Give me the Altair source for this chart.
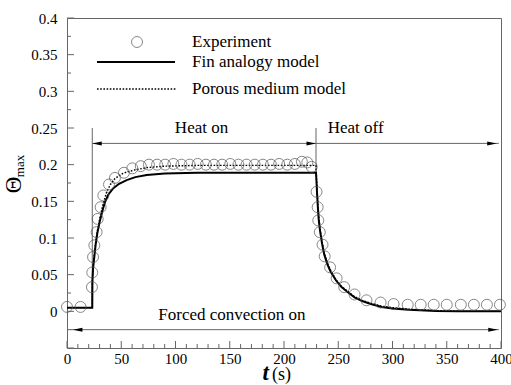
import altair as alt
import pandas as pd

# ---------------- data ----------------
exp_t = [0, 12.5, 23, 23.3, 24, 25.2, 27.3, 28.3, 31, 33.5, 38.7, 44.2, 52.5, 60.2, 68,
         75.5, 83, 90.5, 98, 105.5, 113, 120.5, 128, 135.5, 143, 150.5, 158, 165.5, 173,
         180.5, 188, 195.5, 203, 210, 216.5, 221.5, 225.5,
         230, 231, 231.6, 233, 235.5, 237.5, 242.5, 248.5, 255.5, 265, 276, 289, 301,
         314, 326, 338, 350, 363, 375, 387, 399]
exp_theta = [0.006, 0.006, 0.033, 0.053, 0.074, 0.090, 0.108, 0.126, 0.142, 0.158, 0.173, 0.182,
             0.189, 0.195, 0.198, 0.200, 0.200, 0.200, 0.201, 0.200, 0.200, 0.201, 0.200,
             0.200, 0.200, 0.201, 0.200, 0.200, 0.200, 0.200, 0.200, 0.201, 0.200, 0.201,
             0.204, 0.203, 0.197,
             0.163, 0.142, 0.124, 0.108, 0.091, 0.075, 0.060, 0.045, 0.033, 0.023, 0.015,
             0.012, 0.010, 0.009, 0.009, 0.009, 0.009, 0.009, 0.009, 0.009, 0.009]

fin_t = [0, 23.3, 23.4, 24, 25, 26.4, 28, 30.4, 33, 35, 38, 42.7, 48, 55, 63, 73.5, 90, 120,
         229.5, 230, 230.5, 231.2, 232, 233.2, 235, 237, 240, 243, 248, 253, 258, 265, 272,
         280, 290, 300, 315, 340, 360, 400]
fin_theta = [0.005, 0.005, 0.040, 0.058, 0.072, 0.091, 0.107, 0.124, 0.139, 0.149, 0.159,
             0.168, 0.174, 0.179, 0.183, 0.186, 0.188, 0.189,
             0.189, 0.175, 0.160, 0.142, 0.125, 0.110, 0.093, 0.078, 0.064, 0.054, 0.042,
             0.033, 0.027, 0.019, 0.014, 0.010, 0.006, 0.004, 0.002, 0.0005, 0.0, 0.0]

por_t = [0, 23.3, 23.4, 24, 25, 26.4, 28, 30.4, 33, 36.6, 40, 44.2, 50, 55, 63, 73.5, 90, 120,
         229.5, 230, 230.5, 231.2, 232, 233.2, 235, 237, 240, 243, 248, 253, 258, 265, 272,
         280, 290, 300, 315, 340, 360, 400]
por_theta = [0.005, 0.005, 0.040, 0.060, 0.075, 0.094, 0.110, 0.128, 0.145, 0.163, 0.173,
             0.181, 0.187, 0.190, 0.193, 0.196, 0.198, 0.199,
             0.199, 0.180, 0.165, 0.147, 0.130, 0.113, 0.096, 0.080, 0.066, 0.056, 0.043,
             0.034, 0.028, 0.020, 0.015, 0.011, 0.007, 0.005, 0.003, 0.001, 0.0, 0.0]

x_major = [0, 50, 100, 150, 200, 250, 300, 350, 400]
x_minor = [v for v in range(0, 401, 10) if v % 50 != 0]
y_major = [-0.05, 0, 0.05, 0.1, 0.15, 0.2, 0.25, 0.3, 0.35, 0.4]
y_labels = [0, 0.05, 0.1, 0.15, 0.2, 0.25, 0.3, 0.35, 0.4]
y_minor = [-0.025, 0.025, 0.075, 0.125, 0.175, 0.225, 0.275, 0.325, 0.375]

legend_labels = ["Experiment", "Fin analogy model", "Porous medium model"]
heat_on_label = "Heat on"
heat_off_label = "Heat off"
forced_label = "Forced convection on"

# ---------------- chart ----------------
W, H = 434, 330
FONT = "'Liberation Serif', 'Times New Roman', Tinos, 'DejaVu Serif', serif"
FRAME = "#666666"

xs = alt.Scale(domain=[0, 400], nice=False, zero=False)
ys = alt.Scale(domain=[-0.05, 0.4], nice=False, zero=False)

exp_df = pd.DataFrame({"t": exp_t, "v": exp_theta})
fin_df = pd.DataFrame({"t": fin_t, "v": fin_theta, "i": range(len(fin_t))})
por_df = pd.DataFrame({"t": por_t, "v": por_theta, "i": range(len(por_t))})

X = lambda f="t": alt.X(f"{f}:Q", scale=xs, axis=None)
Y = lambda f="v": alt.Y(f"{f}:Q", scale=ys, axis=None)

# axes (labels only; ticks drawn inward separately)
axes = alt.Chart(pd.DataFrame({"t": [0], "v": [0]})).mark_point(opacity=0).encode(
    x=alt.X("t:Q", scale=xs, axis=alt.Axis(values=x_major, ticks=False, domain=False, grid=False,
                                            labelFont=FONT, labelFontSize=15, labelColor="black",
                                            labelPadding=3, title=None, format="d",
                                            labelFlush=False)),
    y=alt.Y("v:Q", scale=ys, axis=alt.Axis(values=y_labels, ticks=False, domain=False, grid=False,
                                            labelFont=FONT, labelFontSize=15, labelColor="black",
                                            labelPadding=10, title=None, format=".2~f",
                                            labelFlush=False)),
)

xmaj = alt.Chart(pd.DataFrame({"t": x_major})).mark_rule(color=FRAME, strokeWidth=1).encode(
    x=X(), y=alt.value(H), y2=alt.value(H - 7))
xmin = alt.Chart(pd.DataFrame({"t": x_minor})).mark_rule(color=FRAME, strokeWidth=1).encode(
    x=X(), y=alt.value(H), y2=alt.value(H - 4))
ymaj = alt.Chart(pd.DataFrame({"v": y_major})).mark_rule(color=FRAME, strokeWidth=1).encode(
    y=Y(), x=alt.value(0), x2=alt.value(7))
ymin = alt.Chart(pd.DataFrame({"v": y_minor})).mark_rule(color=FRAME, strokeWidth=1).encode(
    y=Y(), x=alt.value(0), x2=alt.value(4))

fin = alt.Chart(fin_df).mark_line(color="black", strokeWidth=2).encode(
    x=X(), y=Y(), order="i:Q")
por = alt.Chart(por_df).mark_line(color="black", strokeWidth=1.4, strokeDash=[1.6, 1.6]).encode(
    x=X(), y=Y(), order="i:Q")
exp = alt.Chart(exp_df).mark_point(shape="circle", filled=False, size=120, color="#555555",
                                   strokeWidth=1).encode(x=X(), y=Y())

# annotation lines
vlines = alt.Chart(pd.DataFrame({"t": [23.3, 229.5], "v": [0.005, 0.19], "v2": [0.25, 0.25]})
                   ).mark_rule(color=FRAME, strokeWidth=1).encode(
    x=X(), y=Y(), y2="v2:Q")
hlines = alt.Chart(pd.DataFrame({"t": [23.3, 229.5, 3], "t2": [229.5, 398, 398],
                                 "v": [0.229, 0.229, -0.025]})).mark_rule(
    color=FRAME, strokeWidth=1).encode(x=X(), x2="t2:Q", y=Y())

RIGHT = "M0,0L-2,-0.42L-2,0.42Z"
LEFT = "M0,0L2,-0.42L2,0.42Z"
heads_r = alt.Chart(pd.DataFrame({"t": [229.5, 396, 397], "v": [0.229, 0.229, -0.025]})).mark_point(
    shape=RIGHT, filled=True, size=90, color="black", opacity=1).encode(x=X(), y=Y())
heads_l = alt.Chart(pd.DataFrame({"t": [23.3, 5.5], "v": [0.229, -0.025]})).mark_point(
    shape=LEFT, filled=True, size=90, color="black", opacity=1).encode(x=X(), y=Y())

notes = alt.Chart(pd.DataFrame({"t": [124, 266, 152], "v": [0.25, 0.25, -0.005],
                                "s": [heat_on_label, heat_off_label, forced_label]})).mark_text(
    font=FONT, fontSize=17, color="black", align="center", baseline="middle").encode(
    x=X(), y=Y(), text="s:N")

# legend
one = pd.DataFrame({"a": [0]})
leg_pt = alt.Chart(one).mark_point(shape="circle", filled=False, size=120, color="#555555",
                                   strokeWidth=1).encode(x=alt.value(70), y=alt.value(24))
leg_solid = alt.Chart(one).mark_rule(color="black", strokeWidth=2).encode(
    x=alt.value(30), x2=alt.value(108), y=alt.value(44))
leg_dot = alt.Chart(one).mark_rule(color="black", strokeWidth=1.4, strokeDash=[1.6, 1.6]).encode(
    x=alt.value(30), x2=alt.value(110), y=alt.value(71))
leg_txt = alt.Chart(pd.DataFrame({"s": legend_labels, "y": [24, 44, 71]})).mark_text(
    font=FONT, fontSize=17, color="black", align="left", baseline="middle").encode(
    x=alt.value(125), y=alt.Y("y:Q", scale=alt.Scale(domain=[0, H], range=[0, H]), axis=None),
    text="s:N")

# axis titles
ttl_t = alt.Chart(one).mark_text(text="t", font=FONT, fontSize=23, fontWeight="bold",
                                 fontStyle="italic", align="right", baseline="alphabetic",
                                 color="black").encode(x=alt.value(202), y=alt.value(362))
ttl_s = alt.Chart(one).mark_text(text="(s)", font=FONT, fontSize=18, align="left",
                                 baseline="alphabetic", color="black").encode(
    x=alt.value(205), y=alt.value(362))
ttl_th = alt.Chart(one).mark_text(text="Θ", font=FONT, fontSize=23, angle=270, align="center",
                                  baseline="alphabetic", color="black").encode(
    x=alt.value(-46), y=alt.value(167))
ttl_max = alt.Chart(one).mark_text(text="max", font=FONT, fontSize=13, angle=270, align="center",
                                   baseline="alphabetic", color="black").encode(
    x=alt.value(-43), y=alt.value(148))

chart = alt.layer(
    axes, xmaj, xmin, ymaj, ymin, vlines, hlines, heads_r, heads_l, notes,
    por, fin, exp, leg_pt, leg_solid, leg_dot, leg_txt, ttl_t, ttl_s, ttl_th, ttl_max
).resolve_scale(x="independent", y="independent").properties(
    width=W, height=H,
    autosize="none",
    padding={"left": 67, "top": 18, "right": 10, "bottom": 37},
    background="white",
).configure_view(stroke=FRAME, strokeWidth=1)

chart.save("out.html", embed_options={"renderer": "svg", "actions": False})
